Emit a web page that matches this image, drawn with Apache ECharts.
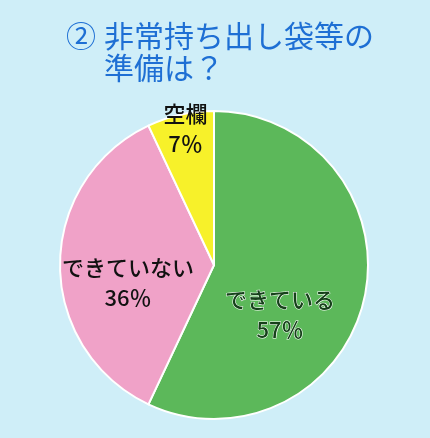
<!DOCTYPE html>
<html>
<head>
<meta charset="utf-8">
<script src="https://cdn.jsdelivr.net/npm/echarts@6/dist/echarts.min.js"></script>
<style>
html,body{margin:0;padding:0;background:#cfeef8;}
#c{width:430px;height:438px;}
</style>
</head>
<body>
<div id="c"></div>
<script>
const categories = ['できている', 'できていない', '空欄'];
const values = [57, 36, 7];
const colors = ['#5cb85a', '#f0a2c8', '#f7f12a'];
const titleMark = '②';
const titleLine1 = '非常持ち出し袋等の';
const titleLine2 = '準備は？';

const labelOffsets = [[-12, 32], [-6, 18], [-11, -58]];
const labelColors = ['#16401a', '#111', '#111'];

const tStyle = {fontFamily: 'Noto Sans CJK JP', fontWeight: 'normal', fontSize: 30, color: '#1e6fd4'};
const chart = echarts.init(document.getElementById('c'), null, {renderer: 'canvas'});
chart.setOption({
  backgroundColor: '#cfeef8',
  title: [
    {text: titleMark, left: 61, top: 16, textStyle: tStyle},
    {text: titleLine1, left: 99, top: 16, textStyle: tStyle},
    {text: titleLine2, left: 99, top: 48, textStyle: tStyle}
  ],
  series: [{
    type: 'pie',
    center: [214, 265],
    radius: 154,
    startAngle: 90,
    clockwise: true,
    animation: false,
    itemStyle: {borderColor: '#ffffff', borderWidth: 2},
    label: {
      position: 'inside',
      fontFamily: 'Noto Sans CJK JP',
      fontWeight: 500,
      fontSize: 22,
      lineHeight: 30,
      formatter: p => p.name + '\n' + p.value + '％'
    },
    labelLine: {show: false},
    data: categories.map((c, i) => ({
      name: c,
      value: values[i],
      itemStyle: {color: colors[i]},
      label: {
        offset: labelOffsets[i],
        color: labelColors[i],
        textBorderColor: i === 0 ? '#ffffff' : 'transparent',
        textBorderWidth: i === 0 ? 1 : 0
      }
    }))
  }]
});
</script>
</body>
</html>
